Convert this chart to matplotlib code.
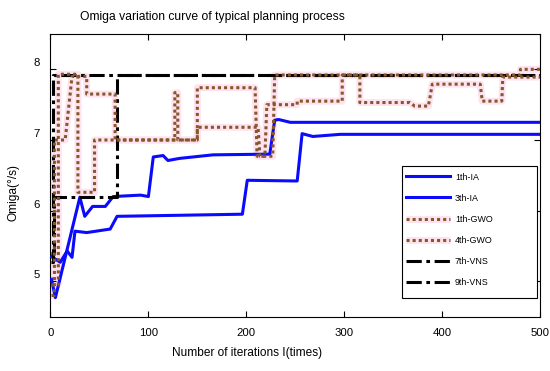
import matplotlib
matplotlib.use("Agg")
import matplotlib.pyplot as plt
import matplotlib.transforms as mtransforms
from matplotlib.patches import Rectangle

plt.rcParams["font.family"] = ["Liberation Sans", "DejaVu Sans"]

# --- data ---
ia1_x = [1, 5, 30, 35, 43, 56, 64, 92, 100, 105, 115, 120, 132, 166, 224, 229, 233, 245, 500]
ia1_y = [5.03, 4.77, 6.19, 5.92, 6.06, 6.06, 6.20, 6.22, 6.20, 6.76, 6.78, 6.71, 6.74, 6.79, 6.80, 7.28, 7.29, 7.25, 7.25]

ia3_x = [1, 10, 17, 22, 25, 37, 61, 68, 196, 201, 252, 257, 268, 296, 500]
ia3_y = [5.35, 5.27, 5.43, 5.34, 5.71, 5.69, 5.74, 5.92, 5.95, 6.43, 6.42, 7.09, 7.05, 7.08, 7.08]

gwo1_x = [1, 4, 4, 15, 22, 37, 37, 66, 66, 150, 150, 209, 211, 219, 221, 252, 252, 298, 298, 480, 480, 500]
gwo1_y = [4.8, 4.8, 7.0, 7.0, 7.9, 7.9, 7.65, 7.65, 7.0, 7.0, 7.74, 7.74, 6.77, 6.77, 7.5, 7.5, 7.55, 7.55, 7.92, 7.92, 8.0, 8.0]

gwo4_x = [1, 8, 8, 28, 28, 45, 45, 127, 127, 130, 130, 150, 150, 212, 214, 227, 229, 316, 316, 367, 372, 386, 390, 439, 441, 461, 462, 500]
gwo4_y = [4.95, 4.95, 7.93, 7.93, 6.26, 6.26, 7.0, 7.0, 7.67, 7.67, 7.0, 7.0, 7.18, 7.18, 6.77, 6.77, 7.92, 7.92, 7.53, 7.53, 7.48, 7.48, 7.79, 7.79, 7.55, 7.55, 7.89, 7.89]

vns7_x = [1, 3, 3, 500]
vns7_y = [5.27, 5.27, 7.92, 7.92]

vns9_x = [1, 4, 4, 68, 68, 500]
vns9_y = [5.4, 5.4, 6.2, 6.2, 7.92, 7.92]

x_ticks = [0, 100, 200, 300, 400, 500]
y_ticks = [5, 6, 7, 8]

BLUE = "#0a0aff"
BROWN = "#85582c"
HALO = "#ffe2f0"
DOT = (0, (1, 1.0))
DASHDOT = (0, (5, 1.5, 1.2, 1.5))

fig = plt.figure(figsize=(5.5, 3.71), dpi=100)
ax = fig.add_axes([0.0918, 0.1464, 0.89, 0.762])

# pink glow under the GWO curves
h1, = ax.plot(gwo1_x, gwo1_y, color=HALO, lw=5, zorder=1, solid_capstyle="butt")
h4, = ax.plot(gwo4_x, gwo4_y, color=HALO, lw=5, zorder=1, solid_capstyle="butt")

l_ia1, = ax.plot(ia1_x, ia1_y, color=BLUE, lw=2.2, zorder=3)
l_ia3, = ax.plot(ia3_x, ia3_y, color=BLUE, lw=2.2, zorder=3)
l_v7, = ax.plot(vns7_x, vns7_y, color="black", lw=2.2, linestyle=DASHDOT, zorder=4)
l_v9, = ax.plot(vns9_x, vns9_y, color="black", lw=2.2, linestyle=DASHDOT, zorder=4)
l_g1, = ax.plot(gwo1_x, gwo1_y, color=BROWN, lw=2.2, linestyle=DOT, dash_capstyle="butt", zorder=5)
l_g4, = ax.plot(gwo4_x, gwo4_y, color=BROWN, lw=2.2, linestyle=DOT, dash_capstyle="butt", zorder=5)

ax.set_xlim(0, 500)
ax.set_ylim(4.5, 8.5)
ax.set_xticks(x_ticks)
ax.set_yticks(y_ticks)
ax.tick_params(direction="in", length=4, width=0.8, top=True, right=True, labelsize=8.2, pad=8)
for sp in ax.spines.values():
    sp.set_linewidth(0.8)

# y tick labels sit a bit above their ticks in the reference
shift = mtransforms.ScaledTranslation(0, 5 / 72, fig.dpi_scale_trans)
for lab in ax.get_yticklabels():
    lab.set_transform(lab.get_transform() + shift)

ax.set_xlabel("Number of iterations I(times)", fontsize=8.6)
ax.xaxis.set_label_coords(0.401, -0.107)
ax.set_ylabel("Omiga(°/s)", fontsize=8.6)
ax.yaxis.set_label_coords(-0.064, 0.44)

fig.text(0.145, 0.954, "Omiga variation curve of typical planning process", fontsize=8.7, va="center", ha="left")

# legend box drawn separately: the reference has a lot of empty room on its right
ax.add_patch(Rectangle((0.7175, 0.066), 0.2755, 0.467, transform=ax.transAxes,
                       facecolor="white", edgecolor="black", lw=0.8, zorder=6))
leg = ax.legend([l_ia1, l_ia3, (h1, l_g1), (h4, l_g4), l_v7, l_v9],
                ["1th-IA", "3th-IA", "1th-GWO", "4th-GWO", "7th-VNS", "9th-VNS"],
                loc="upper left", bbox_to_anchor=(0.726, 0.51), fontsize=6.4,
                handlelength=4.95, handletextpad=0.56, labelspacing=1.36,
                borderpad=0, borderaxespad=0, frameon=False)
leg.set_zorder(7)

fig.savefig("out.png", dpi=100)
